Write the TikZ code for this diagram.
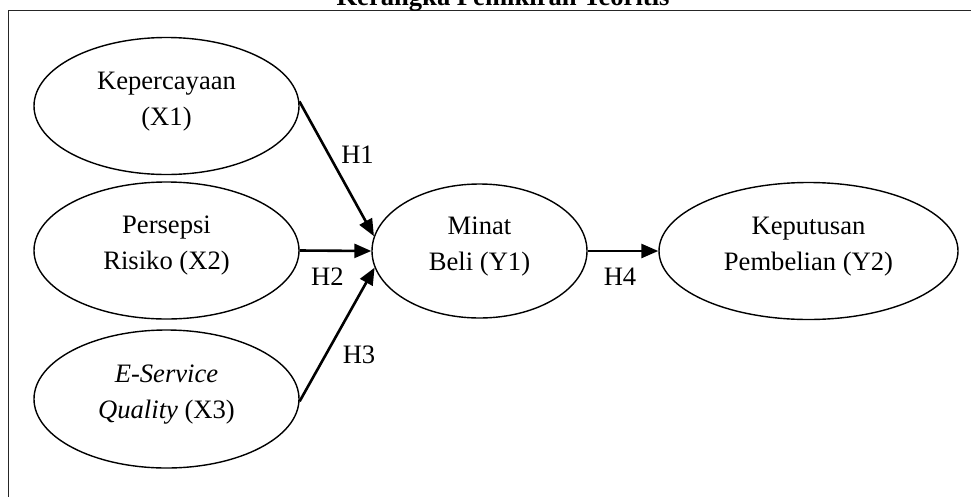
\documentclass[tikz,border=0pt]{standalone}
\usepackage{fontspec}
\setmainfont{Liberation Serif}
\usetikzlibrary{shapes.geometric,arrows.meta}
\begin{document}
\begin{tikzpicture}[x=1pt,y=-1pt,
  construct/.style={draw, ellipse, line width=1.4pt, inner sep=0pt},
  lbl/.style={align=center, inner sep=0pt, font=\fontsize{26.6}{36}\selectfont},
  hyp/.style={inner sep=0pt, anchor=base, font=\fontsize{26.6}{32}\selectfont},
  link/.style={line width=2.6pt, -{Triangle[length=17pt,width=14pt]}}
]
\useasboundingbox (0,0) rectangle (971,496);

% outer frame (runs past the page on the right and bottom)
\draw[black!85, line width=1.2pt] (8.5,10.5) rectangle (990,520);

% heading, partly above the page
\node[font=\bfseries\fontsize{26.6}{32}\selectfont, anchor=base, inner sep=0pt]
  (title) at (503,5) {Kerangka Pemikiran Teoritis};

% constructs
\node[construct, minimum width=265, minimum height=137] (x1) at (166.5,106) {};
\node[construct, minimum width=265, minimum height=137] (x2) at (166.5,250.5) {};
\node[construct, minimum width=265, minimum height=138] (x3) at (166.5,399) {};
\node[construct, minimum width=215, minimum height=134] (y1) at (479.5,251) {};
\node[construct, minimum width=299, minimum height=137] (y2) at (808.5,251) {};

\node[lbl] (x1t) at ([yshift=4.5pt]x1.center) {Kepercayaan\\(X1)};
\node[lbl] (x2t) at ([yshift=4.5pt]x2.center) {Persepsi\\Risiko (X2)};
\node[lbl] (x3t) at ([yshift=4.5pt]x3.center) {\textit{E-Service}\\\textit{Quality} (X3)};
\node[lbl] (y1t) at ([yshift=4.5pt]y1.center) {Minat\\Beli (Y1)};
\node[lbl] (y2t) at ([yshift=4.5pt]y2.center) {Keputusan\\Pembelian (Y2)};

% hypothesised paths
\draw[link] (x1.2) -- (y1.172);
\draw[link] (x2.east) -- (y1.west);
\draw[link] (x3.-1) -- (y1.189);
\draw[link] (y1.east) -- (y2.west);

\node[hyp] (h1) at (357.5,163) {H1};
\node[hyp] (h2) at (327.5,285) {H2};
\node[hyp] (h3) at (359,363) {H3};
\node[hyp] (h4) at (620,285) {H4};
\end{tikzpicture}
\end{document}
